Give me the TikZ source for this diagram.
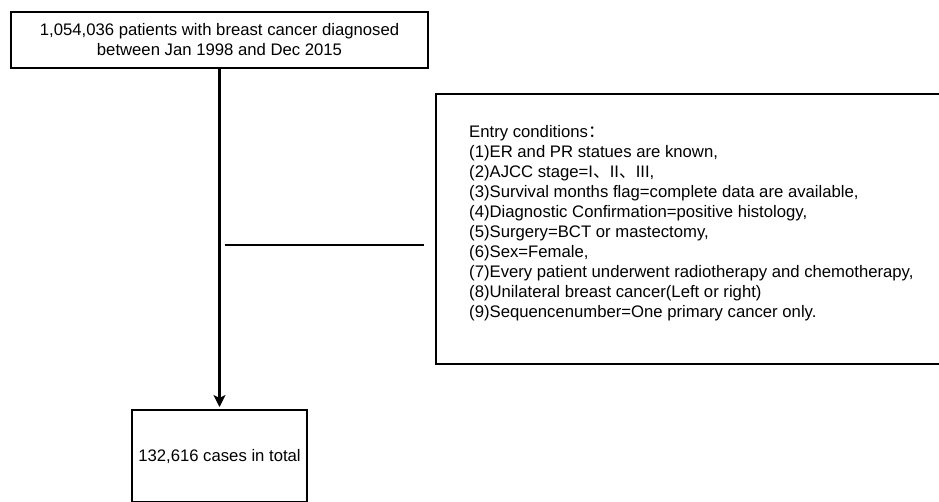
\documentclass[tikz,border=0pt]{standalone}
\usepackage{fontspec}
\setmainfont{Liberation Sans}
\newfontfamily\cjk{Noto Sans CJK SC}
\usetikzlibrary{positioning,arrows.meta}

\begin{document}
\begin{tikzpicture}[x=1pt, y=-1pt, >={Stealth[length=12pt, width=12pt, inset=3pt]},
    box/.style={draw, line width=2.2pt, font=\fontsize{16.7}{20}\selectfont, inner sep=0pt},
    flow/.style={line width=2.2pt}]

    \useasboundingbox (0,0) rectangle (939,501);

    % ================= STUDY POPULATION =================
    \node[box, align=center, minimum width=417pt, minimum height=56pt] (source) at (219.5, 40)
        {1,054,036 patients with breast cancer diagnosed\\between Jan 1998 and Dec 2015};

    % Final cohort (cut by the page border)
    \node[box, anchor=north, minimum width=175pt, minimum height=92pt] (total) at (219.5, 409)
        {132,616 cases in total};

    % ================= INCLUSION CRITERIA =================
    \node[box, anchor=north west, minimum width=520pt, minimum height=270pt] (criteria) at (435, 93) {};
    \node[font=\fontsize{16.7}{20}\selectfont, align=left, inner sep=0pt, anchor=west]
        (conditions) at (469, 223)
        {Entry conditions{\cjk ：}\\
         (1)ER and PR statues are known,\\
         (2)AJCC stage=I{\cjk 、}II{\cjk 、}III,\\
         (3)Survival months flag=complete data are available,\\
         (4)Diagnostic Confirmation=positive histology,\\
         (5)Surgery=BCT or mastectomy,\\
         (6)Sex=Female,\\
         (7)Every patient underwent radiotherapy and chemotherapy,\\
         (8)Unilateral breast cancer(Left or right)\\
         (9)Sequencenumber=One primary cancer only.};

    % ================= CONNECTORS =================
    \coordinate (split) at (219.5, 245);
    \draw[flow, ->, shorten >=2pt] (source.south) -- (total.north);
    \draw[flow, shorten <=5pt, shorten >=11pt] (split) -- (split -| criteria.west);

\end{tikzpicture}
\end{document}
